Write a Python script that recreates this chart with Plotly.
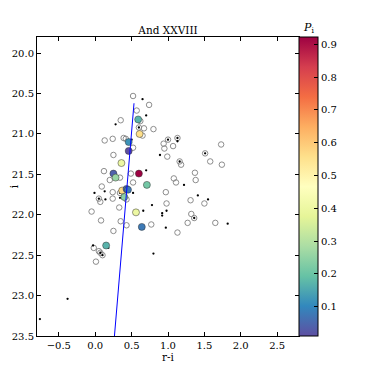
import plotly.graph_objects as go

# open circles: all candidate stars (r-i, i)
OPEN_RI = [0.52, 0.74, 0.57, 0.35, 0.62, 0.67, 0.80, 0.60, 0.13, 0.24, 0.39, 0.42, 0.65,
           0.52, 0.25, 1.00, 1.13, 0.94, 0.95, 1.07, 0.99, 1.51, 1.58, 1.73, 1.74, 1.16,
           1.18, 0.12, 0.49, 0.34, 0.20, 0.52, 0.09, 1.08, 1.11, 1.37, 1.38, 0.24, 0.42,
           0.34, 0.05, 0.07, 0.24, 0.43, 0.97, 0.98, 1.31, 1.50, 0.33, -0.05, 1.32, 1.36,
           0.08, 0.35, 0.43, 0.77, 1.27, 1.65, 0.25, 1.13, -0.02, 0.05, 0.07, 0.10, 0.01]
OPEN_I = [20.53, 20.64, 20.71, 20.83, 20.84, 20.93, 20.94, 20.92, 21.08, 21.06, 21.05, 21.06, 21.02,
          21.17, 21.26, 21.07, 21.05, 21.12, 21.18, 21.15, 21.28, 21.24, 21.34, 21.13, 21.38, 21.34,
          21.38, 21.46, 21.49, 21.54, 21.57, 21.60, 21.65, 21.55, 21.60, 21.48, 21.57, 21.72, 21.69,
          21.73, 21.80, 21.84, 21.80, 21.81, 21.72, 21.86, 21.82, 21.86, 21.91, 21.96, 21.99, 22.04,
          22.07, 22.08, 22.13, 22.12, 22.10, 22.10, 22.20, 22.22, 22.41, 22.45, 22.47, 22.50, 22.58]

# small black dots
DOT_RI = [0.65, 0.70, 0.28, 0.50, 1.13, 0.89, 0.70, 1.22, -0.01, 0.13, 0.14, 0.34, 0.52, 1.41,
          1.55, 0.78, 0.66, 0.98, 0.92, 0.92, 0.97, 1.82, -0.03, 0.18, 0.80, -0.38, -0.76,
          0.60, 1.00, 1.13, 1.51, 1.16, 0.34, 0.05, 1.36, 0.07, 0.10]
DOT_I = [20.57, 20.77, 20.88, 21.07, 21.09, 21.26, 21.45, 21.63, 21.73, 21.71, 21.81, 21.79, 21.73, 21.76,
         21.81, 21.88, 21.95, 21.95, 21.98, 22.01, 22.16, 22.11, 22.38, 22.41, 22.48, 23.04, 23.29,
         20.92, 21.07, 21.05, 21.24, 21.34, 21.73, 21.80, 22.04, 22.47, 22.50]

# members coloured by membership probability P_i
MEM_RI = [0.59, 0.61, 0.46, 0.46, 0.36, 0.25, 0.28, 0.60, 0.71, 0.37, 0.43, 0.45, 0.40, 0.56, 0.64, 0.15]
MEM_I = [20.82, 21.00, 21.10, 21.21, 21.36, 21.49, 21.54, 21.49, 21.63, 21.70, 21.68, 21.69, 21.78, 21.97, 22.15, 22.38]
MEM_P = [0.17, 0.56, 0.12, 0.011, 0.40, 0.04, 0.26, 0.922, 0.21, 0.57, 0.05, 0.08, 0.24, 0.40, 0.08, 0.17]

# fiducial RGB line
RGB_RI = [0.533, 0.255]
RGB_I = [20.62, 23.6]

FONT = "DejaVu Serif"
# the page body keeps its 8px default margin, so the figure is drawn 8px in and shrunk to fit
W, H = 358, 358

fig = go.Figure()
fig.add_trace(go.Scatter(
    x=OPEN_RI, y=OPEN_I, mode="markers",
    marker=dict(size=5.5, color="rgba(0,0,0,0)", line=dict(color="#808080", width=0.9)),
    showlegend=False,
))
fig.add_trace(go.Scatter(
    x=DOT_RI, y=DOT_I, mode="markers",
    marker=dict(size=2.3, color="black", line=dict(width=0)),
    showlegend=False,
))
fig.add_trace(go.Scatter(
    x=MEM_RI, y=MEM_I, mode="markers",
    marker=dict(
        size=7, color=MEM_P, colorscale="Spectral_r",
        cmin=min(MEM_P), cmax=max(MEM_P),
        line=dict(color="#333333", width=0.5),
        colorbar=dict(
            x=1.0, xanchor="left", xpad=0, y=0.5, yanchor="middle", ypad=0,
            len=1, lenmode="fraction", thickness=19,
            outlinewidth=1, outlinecolor="black",
            tickvals=[0.1, 0.2, 0.3, 0.4, 0.5, 0.6, 0.7, 0.8, 0.9],
            tickformat=".1f", ticks="inside", ticklen=4, tickcolor="black",
            tickfont=dict(family=FONT, size=10, color="black"),
        ),
    ),
    showlegend=False,
))
fig.add_trace(go.Scatter(
    x=RGB_RI, y=RGB_I, mode="lines",
    line=dict(color="#0000ff", width=1),
    showlegend=False,
))

axis_common = dict(
    showgrid=False, zeroline=False, showline=True, linecolor="black", linewidth=1,
    mirror="ticks", ticks="inside", ticklen=4, tickcolor="black", automargin=False,
    tickfont=dict(family=FONT, size=10, color="black"),
)
fig.update_xaxes(range=[-0.8, 2.8], tickvals=[-0.5, 0.0, 0.5, 1.0, 1.5, 2.0, 2.5],
                 tickformat=".1f", title=dict(text="r-i", standoff=0,
                                              font=dict(family=FONT, size=10.5, color="black")),
                 **axis_common)
fig.update_yaxes(range=[23.5, 19.8], tickvals=[20.0, 20.5, 21.0, 21.5, 22.0, 22.5, 23.0, 23.5],
                 tickformat=".1f", title=dict(text="i", standoff=4,
                                              font=dict(family=FONT, size=10.5, color="black")),
                 **axis_common)
fig.update_layout(
    width=W, height=H,
    margin=dict(l=29, r=67, t=29, b=30, autoexpand=False),
    plot_bgcolor="white", paper_bgcolor="white",
    title=dict(text="And XXVIII", x=0.5, xref="paper", xanchor="center",
               y=1 - 22 / H, yref="container", yanchor="middle",
               font=dict(family=FONT, size=10.5, color="black")),
    annotations=[dict(text="<i>P</i><sub>i</sub>", xref="paper", yref="paper",
                      x=1.0 + 9 / 262, y=1.0, xanchor="center", yanchor="bottom",
                      showarrow=False, font=dict(family=FONT, size=11, color="black"))],
)

fig.write_html("out.html")
